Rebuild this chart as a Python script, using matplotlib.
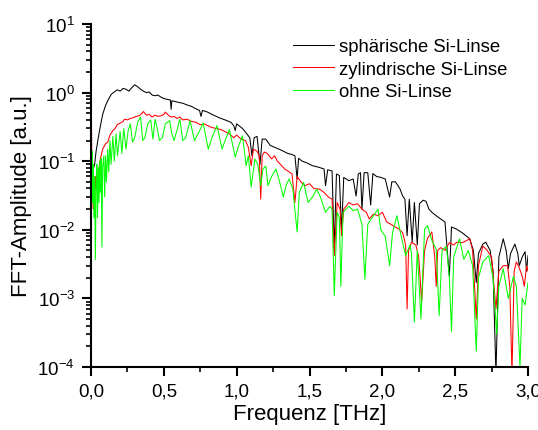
import matplotlib
matplotlib.use("Agg")
import matplotlib.pyplot as plt
from matplotlib.ticker import FixedLocator, FuncFormatter, LogLocator, NullFormatter
import numpy as np

plt.rcParams['font.family'] = ['Liberation Sans', 'DejaVu Sans']
plt.rcParams['mathtext.fontset'] = 'custom'
plt.rcParams['mathtext.rm'] = 'Liberation Sans'
plt.rcParams['mathtext.it'] = 'Liberation Sans'
plt.rcParams['mathtext.default'] = 'regular'

labels = ["sphärische Si-Linse", "zylindrische Si-Linse", "ohne Si-Linse"]

f_sph = [0.000, 0.010, 0.025, 0.035, 0.05, 0.065, 0.08, 0.10, 0.12, 0.14, 0.16, 0.18, 0.20, 0.22, 0.24,
         0.26, 0.28, 0.30, 0.32, 0.34, 0.36, 0.38, 0.40, 0.42, 0.44, 0.46, 0.48, 0.50, 0.52, 0.545,
         0.55, 0.555, 0.58, 0.60, 0.63, 0.66, 0.69, 0.72, 0.745, 0.755, 0.765, 0.80, 0.84, 0.88, 0.92,
         0.96, 0.98, 0.99, 1.00, 1.04, 1.07, 1.09, 1.105, 1.12, 1.14, 1.16, 1.175, 1.20, 1.23, 1.26,
         1.29, 1.32, 1.35, 1.38, 1.40, 1.415, 1.425, 1.45, 1.48, 1.52, 1.56, 1.60, 1.61, 1.625, 1.655,
         1.67, 1.685, 1.705, 1.72, 1.735, 1.77, 1.80, 1.82, 1.835, 1.85, 1.86, 1.875, 1.90, 1.92, 1.935,
         1.96, 1.99, 2.02, 2.05, 2.065, 2.09, 2.12, 2.14, 2.155, 2.17, 2.185, 2.205, 2.22, 2.24, 2.255,
         2.28, 2.30, 2.32, 2.34, 2.37, 2.40, 2.43, 2.46, 2.475, 2.51, 2.55, 2.58, 2.60, 2.625, 2.645,
         2.66, 2.69, 2.71, 2.74, 2.76, 2.78, 2.80, 2.83, 2.85, 2.865, 2.88, 2.91, 2.93, 2.94, 2.96,
         2.98, 2.99, 3.00]
a_sph = [0.12, 0.07, 0.09, 0.14, 0.22, 0.33, 0.48, 0.65, 0.80, 0.95, 1.02, 1.10, 1.05, 1.15, 1.12,
         1.05, 1.18, 1.30, 1.22, 1.12, 1.05, 1.00, 1.02, 0.92, 0.90, 0.92, 0.86, 0.82, 0.80, 0.78,
         0.57, 0.76, 0.74, 0.72, 0.70, 0.66, 0.63, 0.58, 0.55, 0.45, 0.55, 0.52, 0.47, 0.43, 0.40,
         0.37, 0.33, 0.28, 0.35, 0.30, 0.25, 0.22, 0.12, 0.22, 0.23, 0.09, 0.21, 0.21, 0.17, 0.16,
         0.15, 0.14, 0.13, 0.125, 0.12, 0.055, 0.11, 0.10, 0.095, 0.086, 0.082, 0.077, 0.044, 0.075, 0.072,
         0.0052, 0.065, 0.062, 0.0093, 0.058, 0.052, 0.055, 0.031, 0.065, 0.068, 0.020, 0.068, 0.068, 0.023, 0.066,
         0.060, 0.058, 0.055, 0.030, 0.050, 0.050, 0.040, 0.031, 0.028, 0.0082, 0.028, 0.0066, 0.025, 0.006, 0.024,
         0.027, 0.026, 0.020, 0.018, 0.016, 0.0144, 0.0130, 0.0021, 0.011, 0.0102, 0.0090, 0.0080, 0.0074, 0.0050, 0.0017,
         0.0045, 0.0062, 0.0066, 0.0050, 0.0025, 0.00008, 0.0040, 0.0074, 0.0050, 0.0027, 0.0045, 0.0062, 0.0045, 0.0030, 0.0040,
         0.0048, 0.0025, 0.0042]

f_zyl = [0.000, 0.004, 0.008, 0.012, 0.016, 0.02, 0.025, 0.03, 0.035, 0.045, 0.055, 0.065, 0.08, 0.10,
         0.115, 0.13, 0.15, 0.165, 0.18, 0.20, 0.22, 0.23, 0.25, 0.27, 0.29, 0.31, 0.33, 0.35, 0.36,
         0.38, 0.40, 0.42, 0.44, 0.46, 0.48, 0.50, 0.51, 0.53, 0.55, 0.57, 0.59, 0.61, 0.63, 0.66,
         0.69, 0.72, 0.75, 0.78, 0.80, 0.83, 0.86, 0.89, 0.92, 0.95, 0.98, 1.00, 1.03, 1.06, 1.08,
         1.10, 1.115, 1.14, 1.155, 1.165, 1.175, 1.19, 1.21, 1.24, 1.26, 1.28, 1.30, 1.33, 1.36, 1.38,
         1.40, 1.415, 1.44, 1.47, 1.50, 1.53, 1.57, 1.60, 1.63, 1.655, 1.67, 1.69, 1.71, 1.72, 1.735,
         1.77, 1.80, 1.83, 1.86, 1.89, 1.91, 1.94, 1.97, 2.00, 2.03, 2.06, 2.09, 2.115, 2.14, 2.16,
         2.17, 2.18, 2.20, 2.23, 2.25, 2.27, 2.29, 2.31, 2.34, 2.36, 2.37, 2.38, 2.40, 2.43, 2.46,
         2.49, 2.51, 2.55, 2.58, 2.60, 2.62, 2.645, 2.66, 2.69, 2.72, 2.75, 2.78, 2.80, 2.83, 2.86,
         2.875, 2.89, 2.905, 2.92, 2.94, 2.96, 2.975, 2.99, 3.00]
a_zyl = [1.1, 0.25, 0.04, 0.08, 0.02, 0.05, 0.03, 0.06, 0.04, 0.055, 0.08, 0.11, 0.15, 0.18,
         0.19, 0.24, 0.28, 0.30, 0.34, 0.36, 0.38, 0.41, 0.40, 0.42, 0.43, 0.45, 0.46, 0.50, 0.53,
         0.47, 0.48, 0.44, 0.47, 0.45, 0.46, 0.48, 0.52, 0.47, 0.44, 0.45, 0.42, 0.44, 0.40, 0.41,
         0.38, 0.37, 0.34, 0.35, 0.33, 0.31, 0.30, 0.29, 0.27, 0.25, 0.22, 0.24, 0.21, 0.20, 0.16,
         0.086, 0.15, 0.14, 0.12, 0.028, 0.12, 0.136, 0.13, 0.108, 0.12, 0.10, 0.090, 0.077, 0.070, 0.065,
         0.025, 0.060, 0.050, 0.044, 0.047, 0.040, 0.039, 0.035, 0.030, 0.028, 0.0042, 0.025, 0.020, 0.0082, 0.020,
         0.025, 0.023, 0.024, 0.020, 0.018, 0.0144, 0.017, 0.016, 0.018, 0.013, 0.012, 0.011, 0.0102, 0.009, 0.006,
         0.0007, 0.005, 0.0066, 0.006, 0.004, 0.0009, 0.005, 0.0075, 0.0093, 0.004, 0.0015, 0.005, 0.0055, 0.005, 0.0065,
         0.006, 0.0066, 0.0065, 0.0070, 0.0074, 0.005, 0.0005, 0.003, 0.0058, 0.005, 0.004, 0.0007, 0.0025, 0.003, 0.003,
         0.0015, 0.00008, 0.0025, 0.0034, 0.0028, 0.0021, 0.0015, 0.003, 0.0025]

f_ohne = [0.000, 0.004, 0.008, 0.012, 0.016, 0.020, 0.025, 0.030, 0.035, 0.040, 0.045, 0.050, 0.055,
          0.060, 0.065, 0.070, 0.075, 0.080, 0.088, 0.094, 0.100, 0.106, 0.115, 0.122, 0.130, 0.138,
          0.150, 0.160, 0.172, 0.182, 0.200, 0.212, 0.225, 0.240, 0.255, 0.270, 0.285, 0.300, 0.320,
          0.340, 0.355, 0.370, 0.390, 0.410, 0.425, 0.440, 0.455, 0.470, 0.490, 0.510, 0.540, 0.555,
          0.570, 0.590, 0.610, 0.630, 0.650, 0.680, 0.710, 0.735, 0.770, 0.805, 0.830, 0.865, 0.900,
          0.920, 0.950, 0.990, 1.010, 1.040, 1.065, 1.080, 1.100, 1.125, 1.145, 1.165, 1.180, 1.200,
          1.215, 1.240, 1.270, 1.295, 1.320, 1.340, 1.360, 1.385, 1.415, 1.430, 1.460, 1.490, 1.520,
          1.550, 1.575, 1.610, 1.640, 1.655, 1.670, 1.690, 1.705, 1.715, 1.730, 1.770, 1.800, 1.830,
          1.860, 1.880, 1.900, 1.930, 1.970, 1.990, 2.020, 2.050, 2.070, 2.100, 2.130, 2.160, 2.190,
          2.200, 2.220, 2.240, 2.265, 2.290, 2.310, 2.340, 2.370, 2.390, 2.410, 2.440, 2.460, 2.475,
          2.490, 2.530, 2.560, 2.590, 2.620, 2.645, 2.660, 2.690, 2.730, 2.760, 2.785, 2.800, 2.830,
          2.865, 2.900, 2.920, 2.945, 2.960, 2.980, 3.000]
a_ohne = [0.21, 0.07, 0.14, 0.025, 0.09, 0.015, 0.06, 0.0037, 0.05, 0.09, 0.015, 0.08, 0.025,
          0.10, 0.035, 0.11, 0.0056, 0.08, 0.12, 0.03, 0.12, 0.05, 0.15, 0.07, 0.20, 0.09,
          0.23, 0.10, 0.25, 0.12, 0.27, 0.13, 0.30, 0.15, 0.28, 0.35, 0.19, 0.22, 0.37,
          0.44, 0.20, 0.22, 0.35, 0.40, 0.21, 0.41, 0.30, 0.20, 0.22, 0.35, 0.39, 0.25,
          0.20, 0.28, 0.41, 0.20, 0.22, 0.39, 0.20, 0.25, 0.36, 0.15, 0.22, 0.33, 0.15,
          0.20, 0.29, 0.115, 0.16, 0.235, 0.086, 0.12, 0.042, 0.108, 0.09, 0.044, 0.077, 0.085,
          0.044, 0.060, 0.077, 0.050, 0.030, 0.045, 0.055, 0.040, 0.0093, 0.035, 0.049, 0.025, 0.030,
          0.039, 0.030, 0.018, 0.022, 0.020, 0.0011, 0.018, 0.015, 0.0015, 0.018, 0.022, 0.019, 0.020,
          0.012, 0.0019, 0.012, 0.015, 0.020, 0.010, 0.008, 0.003, 0.009, 0.016, 0.008, 0.0042, 0.006,
          0.0045, 0.00045, 0.005, 0.0005, 0.0102, 0.0115, 0.007, 0.0052, 0.00056, 0.005, 0.0058, 0.002, 0.00033,
          0.004, 0.0074, 0.0037, 0.005, 0.003, 0.00017, 0.002, 0.0034, 0.0042, 0.002, 0.0003, 0.0015, 0.0027,
          0.001, 0.0021, 0.0015, 0.0001, 0.001, 0.0008, 0.0017]

x_ticks = [0.0, 0.5, 1.0, 1.5, 2.0, 2.5, 3.0]
x_ticklabels = ["0,0", "0,5", "1,0", "1,5", "2,0", "2,5", "3,0"]

fig = plt.figure(figsize=(5.38, 4.31), dpi=100)
ax = fig.add_axes([91/538, 1-368/431, (528-91)/538, (368-25)/431])

ax.plot(f_sph, a_sph, color='#000000', lw=0.75, label=labels[0])
ax.plot(f_zyl, a_zyl, color='#FF0000', lw=0.75, label=labels[1])
ax.plot(f_ohne, a_ohne, color='#00FF00', lw=0.75, label=labels[2])

ax.set_yscale('log')
ax.set_xlim(0, 3.0)
ax.set_ylim(1e-4, 1e1)

ax.xaxis.set_major_locator(FixedLocator(x_ticks))
ax.set_xticklabels(x_ticklabels)
ax.xaxis.set_minor_locator(FixedLocator([0.25, 0.75, 1.25, 1.75, 2.25, 2.75]))
ax.yaxis.set_major_locator(LogLocator(base=10, numticks=10))
ax.yaxis.set_minor_locator(LogLocator(base=10, subs=np.arange(2, 10), numticks=20))
ax.yaxis.set_minor_formatter(NullFormatter())
ax.yaxis.set_major_formatter(FuncFormatter(lambda v, p: r'$10^{%d}$' % int(round(np.log10(v)))))

for s in ['top', 'right']:
    ax.spines[s].set_visible(False)
for s in ['left', 'bottom']:
    ax.spines[s].set_linewidth(1.5)

ax.tick_params(which='major', direction='out', length=6.5, width=1.5, labelsize=13.5, pad=5)
ax.tick_params(which='minor', direction='out', length=3.5, width=1.2)

ax.set_xlabel("Frequenz [THz]", fontsize=16, labelpad=2)
ax.set_ylabel("FFT-Amplitude [a.u.]", fontsize=16, labelpad=4)

leg = ax.legend(loc='upper left', bbox_to_anchor=(293/538, 1-39/431), bbox_transform=fig.transFigure,
                frameon=False, fontsize=13.3, handlelength=2.2, handletextpad=0.3,
                labelspacing=0.3, borderpad=0, borderaxespad=0)

fig.savefig("out.png", dpi=100)
